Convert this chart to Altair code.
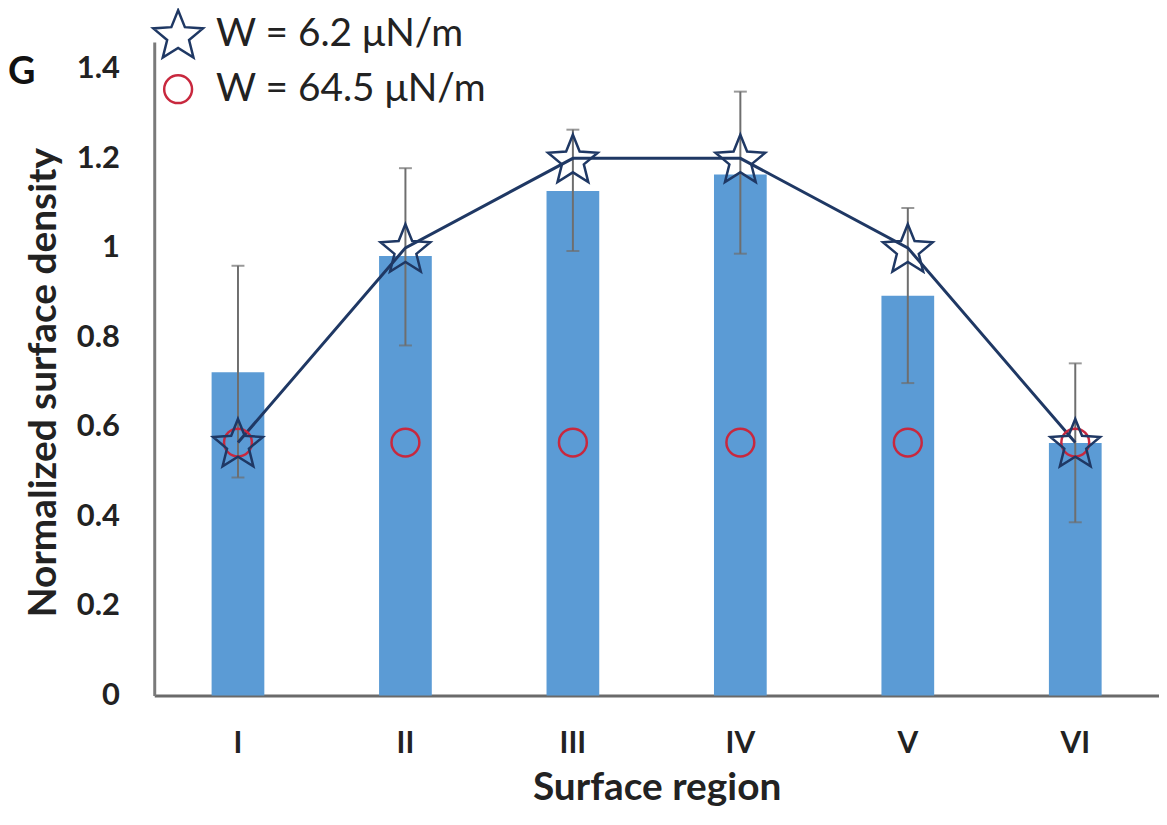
import math
import altair as alt
import pandas as pd

# ---- data ----
regions = ["I", "II", "III", "IV", "V", "VI"]
bar_values = [0.722, 0.982, 1.127, 1.164, 0.893, 0.564]
err_low = [0.487, 0.782, 0.993, 0.987, 0.698, 0.387]
err_high = [0.960, 1.178, 1.264, 1.349, 1.089, 0.742]
star_values = [0.565, 1.0, 1.2, 1.2, 1.0, 0.565]
circle_values = [0.565, 0.565, 0.565, 0.565, 0.565, 0.565]
series_names = ["W = 6.2 μN/m", "W = 64.5 μN/m"]
y_ticks = [0, 0.2, 0.4, 0.6, 0.8, 1.0, 1.2, 1.4]

# ---- styling ----
FONT = "Lato"
BAR_COLOR = "#5B9BD5"
NAVY = "#1F3864"
RED = "#C8283E"
GRAY_ERR = "#6E6E6E"

# five-pointed star symbol path (unit box)
pts = []
for k in range(10):
    ang = math.radians(-90 + 36 * k)
    r = 1.0 if k % 2 == 0 else 0.44
    pts.append((r * math.cos(ang), r * math.sin(ang) + 0.0955))
STAR = "M" + "L".join(f"{x:.4f},{y:.4f}" for x, y in pts) + "Z"

bars = pd.DataFrame({"region": regions, "value": bar_values,
                     "lo": err_low, "hi": err_high})
points = pd.DataFrame({
    "region": regions + regions,
    "value": star_values + circle_values,
    "series": [series_names[0]] * 6 + [series_names[1]] * 6,
})
stars = points[points["series"] == series_names[0]]

x_enc = alt.X("region:N", sort=regions, title="Surface region",
              scale=alt.Scale(paddingInner=0, paddingOuter=0),
              axis=alt.Axis(labelAngle=0, ticks=False, labelPadding=33,
                            titlePadding=11, domainColor="#6A6A6A",
                            domainWidth=3))
y_scale = alt.Scale(domain=[0, 1.46], nice=False, zero=True)
y_axis = alt.Axis(values=y_ticks, format=".1~f", ticks=False, grid=False,
                  labelPadding=35, titlePadding=13, titleY=342,
                  domainColor="#7A7A7A", domainWidth=3)

base = alt.Chart(bars).encode(x=x_enc)

bar_layer = base.mark_bar(size=53, color=BAR_COLOR).encode(
    y=alt.Y("value:Q", scale=y_scale, axis=y_axis,
            title="Normalized surface density"))

err_rule = base.mark_rule(color=GRAY_ERR, strokeWidth=2).encode(
    y="lo:Q", y2="hi:Q")
err_cap_hi = base.mark_tick(color=GRAY_ERR, size=13, thickness=2).encode(y="hi:Q")
err_cap_lo = base.mark_tick(color=GRAY_ERR, size=13, thickness=2).encode(y="lo:Q")

line_layer = alt.Chart(stars).mark_line(color=NAVY, strokeWidth=3).encode(
    x=alt.X("region:N", sort=regions), y="value:Q")

leg = alt.Legend(title=None, orient="none", legendX=-4, legendY=-36,
                 labelFont=FONT, labelFontSize=39, labelColor="#222222",
                 labelLimit=0, labelOffset=10, rowPadding=7, padding=0,
                 symbolStrokeWidth=2.5, symbolOpacity=1)

point_layer = alt.Chart(points).mark_point(filled=False, strokeWidth=2.5,
                                           opacity=1).encode(
    x=alt.X("region:N", sort=regions),
    y="value:Q",
    shape=alt.Shape("series:N", scale=alt.Scale(domain=series_names,
                                                range=[STAR, "circle"]),
                    legend=leg),
    stroke=alt.Stroke("series:N", scale=alt.Scale(domain=series_names,
                                                  range=[NAVY, RED]),
                      legend=leg),
    size=alt.Size("series:N", scale=alt.Scale(domain=series_names,
                                              range=[2766, 784]),
                  legend=leg),
    order=alt.Order("series:N", sort="descending"),
)

chart = alt.layer(bar_layer, err_rule, err_cap_hi, err_cap_lo, line_layer,
                  point_layer).properties(
    width=1010, height=657,
    title=alt.TitleParams("G", anchor="start", frame="group", dx=-147,
                          dy=90, fontSize=38, font=FONT, fontWeight="bold",
                          color="#111111"),
    autosize=alt.AutoSizeParams(type="none"),
    padding={"left": 147, "top": 32, "right": 0, "bottom": 120},
).configure_view(stroke=None).configure_axis(
    labelFont=FONT, labelFontWeight="bold", labelColor="#222222",
    titleFont=FONT, titleFontSize=39, titleFontWeight="bold",
    titleColor="#222222",
).configure_axisY(labelFontSize=31).configure_axisX(labelFontSize=30)

chart.save("out.html", embed_options={"renderer": "svg", "actions": False})
